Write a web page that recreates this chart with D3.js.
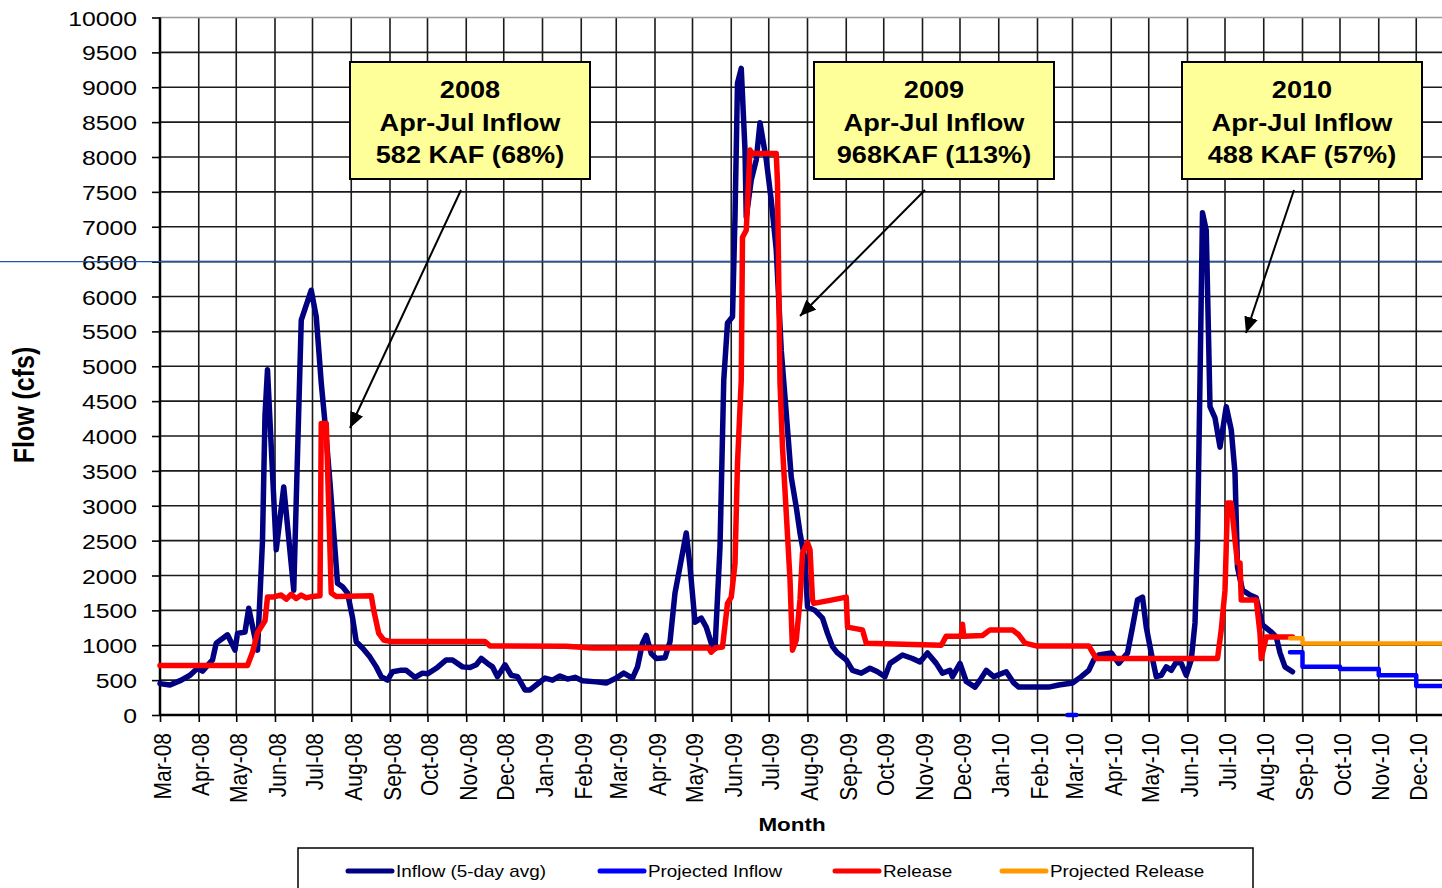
<!DOCTYPE html>
<html>
<head>
<meta charset="utf-8">
<script src="https://cdn.jsdelivr.net/npm/d3@7"></script>
<style>
body{margin:0;background:#fff;overflow:hidden}
svg{display:block}
text{font-family:"Liberation Sans",Arial,sans-serif;fill:#000}
</style>
</head>
<body>
<div id="chart"></div>
<script>
// inflow, 5-day average (cfs)
var inflow = [["2008-03-01",450],["2008-03-09",430],["2008-03-18",500],["2008-03-25",570],["2008-03-31",670],["2008-04-04",630],["2008-04-12",790],["2008-04-15",1030],["2008-04-24",1150],["2008-04-30",930],["2008-05-02",1170],["2008-05-08",1190],["2008-05-11",1530],["2008-05-18",930],["2008-05-22",2500],["2008-05-24",4300],["2008-05-26",4950],["2008-06-02",2370],["2008-06-08",3270],["2008-06-16",1790],["2008-06-22",5660],["2008-06-30",6090],["2008-07-04",5710],["2008-07-08",4760],["2008-07-11",4190],["2008-07-15",3330],["2008-07-19",2370],["2008-07-21",1890],["2008-07-25",1840],["2008-07-29",1750],["2008-08-02",1400],["2008-08-05",1050],["2008-08-10",960],["2008-08-16",830],["2008-08-21",690],["2008-08-25",550],["2008-08-30",500],["2008-09-03",620],["2008-09-09",640],["2008-09-14",640],["2008-09-21",540],["2008-09-27",600],["2008-10-01",590],["2008-10-08",670],["2008-10-16",790],["2008-10-21",790],["2008-10-29",690],["2008-11-04",680],["2008-11-09",720],["2008-11-13",810],["2008-11-18",740],["2008-11-22",690],["2008-11-26",550],["2008-12-02",720],["2008-12-07",570],["2008-12-12",550],["2008-12-18",360],["2008-12-22",360],["2008-12-27",430],["2009-01-03",530],["2009-01-09",500],["2009-01-15",560],["2009-01-21",515],["2009-01-27",540],["2009-02-02",490],["2009-02-13",475],["2009-02-21",460],["2009-03-01",530],["2009-03-07",600],["2009-03-14",530],["2009-03-18",690],["2009-03-22",1030],["2009-03-25",1140],["2009-03-29",880],["2009-04-02",810],["2009-04-09",820],["2009-04-13",1050],["2009-04-17",1750],["2009-04-21",2130],["2009-04-26",2610],["2009-04-29",2130],["2009-05-03",1330],["2009-05-08",1390],["2009-05-12",1260],["2009-05-16",1030],["2009-05-19",950],["2009-05-23",2410],["2009-05-26",4800],["2009-05-29",5620],["2009-06-02",5710],["2009-06-04",7140],["2009-06-06",9060],["2009-06-09",9270],["2009-06-12",8100],["2009-06-13",7140],["2009-06-17",7670],["2009-06-21",7960],["2009-06-24",8490],["2009-06-29",7960],["2009-07-03",7380],["2009-07-07",6670],["2009-07-11",5230],["2009-07-15",4330],["2009-07-19",3410],["2009-07-23",2980],["2009-07-26",2610],["2009-07-30",2220],["2009-08-01",1550],["2009-08-07",1500],["2009-08-13",1390],["2009-08-17",1170],["2009-08-21",980],["2009-08-25",890],["2009-09-01",790],["2009-09-06",640],["2009-09-13",600],["2009-09-20",670],["2009-09-26",620],["2009-10-02",550],["2009-10-06",740],["2009-10-16",860],["2009-10-24",810],["2009-10-30",760],["2009-11-05",890],["2009-11-12",740],["2009-11-17",600],["2009-11-23",640],["2009-11-25",550],["2009-12-01",740],["2009-12-06",480],["2009-12-13",400],["2009-12-17",500],["2009-12-22",640],["2009-12-28",550],["2010-01-07",620],["2010-01-13",460],["2010-01-17",400],["2010-01-28",400],["2010-02-10",400],["2010-02-18",430],["2010-03-01",460],["2010-03-08",550],["2010-03-14",640],["2010-03-18",790],["2010-03-22",860],["2010-04-01",890],["2010-04-07",740],["2010-04-14",890],["2010-04-18",1260],["2010-04-22",1650],["2010-04-26",1690],["2010-04-29",1260],["2010-05-03",890],["2010-05-07",550],["2010-05-11",570],["2010-05-15",690],["2010-05-19",640],["2010-05-23",760],["2010-05-27",740],["2010-05-31",570],["2010-06-04",790],["2010-06-07",1320],["2010-06-09",2510],["2010-06-11",4800],["2010-06-13",7200],["2010-06-16",6950],["2010-06-18",5280],["2010-06-19",4420],["2010-06-23",4260],["2010-06-27",3840],["2010-07-02",4420],["2010-07-06",4090],["2010-07-09",3470],["2010-07-11",2120],["2010-07-15",1790],["2010-07-21",1720],["2010-07-26",1680],["2010-07-31",1290],["2010-08-07",1190],["2010-08-11",1120],["2010-08-14",890],["2010-08-18",690],["2010-08-24",620]];

// release (cfs)
var release = [["2008-03-01",710],["2008-05-10",710],["2008-05-14",900],["2008-05-18",1180],["2008-05-24",1350],["2008-05-26",1690],["2008-05-30",1690],["2008-06-06",1720],["2008-06-10",1660],["2008-06-14",1730],["2008-06-18",1670],["2008-06-22",1720],["2008-06-26",1680],["2008-07-01",1700],["2008-07-07",1710],["2008-07-08",4180],["2008-07-12",4180],["2008-07-16",1750],["2008-07-20",1700],["2008-08-17",1710],["2008-08-19",1500],["2008-08-23",1170],["2008-08-27",1075],["2008-09-01",1055],["2008-11-16",1055],["2008-11-20",990],["2009-01-20",985],["2009-02-10",960],["2009-05-14",960],["2009-05-16",900],["2009-05-19",960],["2009-05-25",975],["2009-05-29",1600],["2009-06-01",1690],["2009-06-04",2170],["2009-06-06",3610],["2009-06-09",4800],["2009-06-10",6850],["2009-06-13",6950],["2009-06-16",8100],["2009-06-18",8050],["2009-07-07",8050],["2009-07-08",7630],["2009-07-10",4760],["2009-07-12",3840],["2009-07-15",2900],["2009-07-18",1940],["2009-07-20",930],["2009-07-23",1075],["2009-07-26",1650],["2009-07-28",2320],["2009-08-01",2470],["2009-08-03",2370],["2009-08-05",1650],["2009-08-06",1600],["2009-08-21",1650],["2009-09-01",1690],["2009-09-02",1260],["2009-09-14",1220],["2009-09-17",1030],["2009-11-16",1000],["2009-11-20",1130],["2009-12-02",1130],["2009-12-03",1300],["2009-12-04",1130],["2009-12-19",1140],["2009-12-25",1220],["2010-01-12",1220],["2010-01-17",1150],["2010-01-22",1030],["2010-01-31",990],["2010-03-14",990],["2010-03-20",810],["2010-06-25",810],["2010-06-28",1220],["2010-07-01",1790],["2010-07-03",3040],["2010-07-06",3040],["2010-07-09",2510],["2010-07-11",2180],["2010-07-13",2180],["2010-07-14",1650],["2010-07-26",1650],["2010-07-29",1170],["2010-07-30",810],["2010-08-03",1120],["2010-08-24",1120]];

// projections (monthly steps), null = gap
var projInflow = [["2010-02-25",0],["2010-03-04",0],["2010-03-05",null],["2010-08-22",900],["2010-09-01",690],["2010-10-01",660],["2010-11-01",570],["2010-12-01",415],["2011-01-01",415]];
var projRelease = [["2010-08-22",1100],["2010-09-01",1025],["2011-01-01",1025]];

var yTicks = d3.range(0, 10001, 500);
var notes = [["2008","Apr-Jul Inflow","582 KAF (68%)"],["2009","Apr-Jul Inflow","968KAF (113%)"],["2010","Apr-Jul Inflow","488 KAF (57%)"]];
var legendNames = ["Inflow (5-day avg)","Projected Inflow","Release","Projected Release"];

const width = 1442, height = 888;
const sx = 1.18; // the original chart is stretched sideways

const parse = d3.utcParse("%Y-%m-%d");
const x = d3.scaleUtc().domain([parse("2008-03-01"), parse("2011-01-01")]).range([160, 1455]);
const y = d3.scaleLinear().domain([0, 10000]).range([715, 17.5]);
const months = d3.utcMonth.range(parse("2008-03-01"), parse("2011-01-02"));

const svg = d3.select("#chart").append("svg")
  .attr("width", width)
  .attr("height", height);

// grid
var grid = svg.append("g");
grid.selectAll(".v").data(months).join("line")
  .attr("x1", d => x(d)).attr("x2", d => x(d))
  .attr("y1", y(10000)).attr("y2", y(0))
  .attr("stroke", "#1a1a1a").attr("stroke-width", 1.6);
grid.selectAll(".h").data(yTicks).join("line")
  .attr("x1", 160).attr("x2", width)
  .attr("y1", d => y(d)).attr("y2", d => y(d))
  .attr("stroke", d => d == 10000 ? "#999" : "#1a1a1a").attr("stroke-width", 1.6);

// axes
var gy = svg.append("g").attr("transform", "translate(160,0)")
  .call(d3.axisLeft(y).tickValues(yTicks).tickFormat(d3.format("d")).tickSize(8));
gy.select(".domain").remove();
gy.selectAll(".tick line").attr("stroke", "#000").attr("stroke-width", 1.6);
gy.selectAll(".tick text")
  .attr("x", 0).attr("dy", "0.36em")
  .attr("transform", "translate(-23,0) scale(" + sx + ",1)")
  .style("font-size", "21px");

var gx = svg.append("g").attr("transform", "translate(0,715)")
  .call(d3.axisBottom(x).tickValues(months.slice(0, -1)).tickFormat(d3.utcFormat("%b-%y")).tickSize(7));
gx.select(".domain").remove();
gx.selectAll(".tick line").attr("stroke", "#000").attr("stroke-width", 1.6);
gx.selectAll(".tick text")
  .attr("x", 0).attr("y", 0).attr("dy", 0)
  .attr("text-anchor", "end")
  .attr("transform", "translate(10,18) scale(" + sx + ",1) rotate(-90)")
  .style("font-size", "21px");

svg.append("line").attr("x1", 160).attr("x2", 160).attr("y1", y(10000)).attr("y2", y(0))
  .attr("stroke", "#000").attr("stroke-width", 2.5);
svg.append("line").attr("x1", 160).attr("x2", width).attr("y1", y(0)).attr("y2", y(0))
  .attr("stroke", "#000").attr("stroke-width", 2.5);

// reference line at 6500 cfs
svg.append("line").attr("x1", 0).attr("x2", width).attr("y1", y(6500)).attr("y2", y(6500))
  .attr("stroke", "#1f56b0").attr("stroke-width", 1.4);

// series
var line = d3.line().x(d => x(parse(d[0]))).y(d => y(d[1]));
var stepLine = d3.line().defined(d => d[1] != null).curve(d3.curveStepAfter)
  .x(d => x(parse(d[0]))).y(d => y(d[1]));

function drawSeries(data, gen, color, w){
  svg.append("path").datum(data)
    .attr("d", gen)
    .attr("fill", "none")
    .attr("stroke", color)
    .attr("stroke-width", w)
    .attr("stroke-linejoin", "round")
    .attr("stroke-linecap", "round");
}
drawSeries(inflow, line, "#000080", 5.5);
drawSeries(release, line, "#ff0000", 5.5);
drawSeries(projInflow, stepLine, "#0000ff", 4.5);
drawSeries(projRelease, stepLine, "#ff9900", 4.5);

// annotation boxes + arrows
svg.append("defs").append("marker")
  .attr("id", "arrow")
  .attr("viewBox", "0 -7 16 14")
  .attr("refX", 16).attr("refY", 0)
  .attr("markerWidth", 16).attr("markerHeight", 14)
  .attr("markerUnits", "userSpaceOnUse")
  .attr("orient", "auto")
  .append("path").attr("d", "M0,-7L16,0L0,7Z").attr("fill", "#000");

var boxes = [
  {x: 350, tail: [461, 190], tip: [350, 428]},
  {x: 814, tail: [925, 190], tip: [800, 316]},
  {x: 1182, tail: [1294, 190], tip: [1246, 333]}
];
boxes.forEach(function(b, i){
  svg.append("line")
    .attr("x1", b.tail[0]).attr("y1", b.tail[1])
    .attr("x2", b.tip[0]).attr("y2", b.tip[1])
    .attr("stroke", "#000").attr("stroke-width", 2)
    .attr("marker-end", "url(#arrow)");
  svg.append("rect")
    .attr("x", b.x).attr("y", 62).attr("width", 240).attr("height", 117)
    .attr("fill", "#ffff99").attr("stroke", "#000").attr("stroke-width", 2);
  notes[i].forEach(function(t, j){
    svg.append("text")
      .attr("transform", "translate(" + (b.x + 120) + "," + (98 + j * 32.5) + ") scale(" + sx + ",1)")
      .attr("text-anchor", "middle")
      .style("font-size", "23px").style("font-weight", "bold")
      .text(t);
  });
});

// axis titles
svg.append("text")
  .attr("transform", "translate(34,405) scale(" + sx + ",1) rotate(-90)")
  .attr("text-anchor", "middle")
  .style("font-size", "25px").style("font-weight", "bold")
  .text("Flow (cfs)");
svg.append("text")
  .attr("transform", "translate(792,831) scale(" + sx + ",1)")
  .attr("text-anchor", "middle")
  .style("font-size", "19px").style("font-weight", "bold")
  .text("Month");

// legend
svg.append("rect").attr("x", 298).attr("y", 848).attr("width", 955).attr("height", 60)
  .attr("fill", "#fff").attr("stroke", "#000").attr("stroke-width", 1.5);
var legColors = ["#000080", "#0000ff", "#ff0000", "#ff9900"];
var legX = [348, 600, 835, 1002];
legendNames.forEach(function(n, i){
  svg.append("line")
    .attr("x1", legX[i]).attr("x2", legX[i] + 44)
    .attr("y1", 871).attr("y2", 871)
    .attr("stroke", legColors[i]).attr("stroke-width", 5)
    .attr("stroke-linecap", "round");
  svg.append("text")
    .attr("transform", "translate(" + (legX[i] + 48) + ",877) scale(" + sx + ",1)")
    .style("font-size", "16px")
    .text(n);
});
</script>
</body>
</html>
